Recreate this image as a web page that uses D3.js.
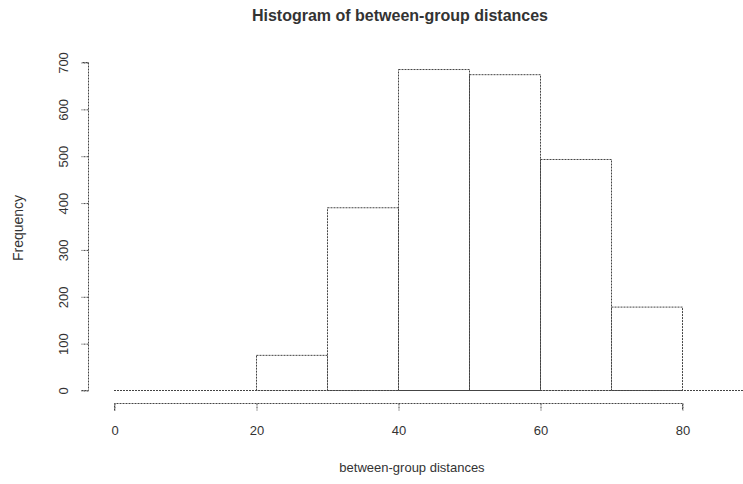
<!DOCTYPE html>
<html>
<head>
<meta charset="utf-8">
<script src="https://cdn.jsdelivr.net/npm/d3@7"></script>
<style>
  body { margin: 0; background: #fff; }
  text { font-family: "Liberation Sans", Arial, sans-serif; fill: #333; }
</style>
</head>
<body>
<div id="chart"></div>
<script>
// histogram bins (lower / upper edge) and counts
const binStart = [0, 10, 20, 30, 40, 50, 60, 70];
const binEnd   = [10, 20, 30, 40, 50, 60, 70, 80];
const counts   = [0, 0, 75, 390, 685, 674, 493, 178];

const xTicks = [0, 20, 40, 60, 80];
const yTicks = [0, 100, 200, 300, 400, 500, 600, 700];

const W = 743, H = 484;
const lineCol = "#444";
const dash = "2,1";

const svg = d3.select("#chart").append("svg")
  .attr("width", W).attr("height", H);

const x = d3.scaleLinear().domain([0, 80]).range([114, 682]);
const y = d3.scaleLinear().domain([0, 700]).range([390, 62]);

// bars
const bins = binStart.map((s, i) => ({ x0: s, x1: binEnd[i], n: counts[i] }));
svg.selectAll("rect.bar")
  .data(bins.filter(d => d.n > 0))
  .enter().append("rect")
  .attr("class", "bar")
  .attr("x", d => x(d.x0) + 0.5)
  .attr("width", d => x(d.x1) - x(d.x0))
  .attr("y", d => y(d.n) + 0.5)
  .attr("height", d => y(0) - y(d.n))
  .attr("fill", "none")
  .attr("stroke", lineCol)
  .attr("stroke-dasharray", dash);

// baseline at zero
svg.append("line")
  .attr("x1", x(0)).attr("x2", x(90))
  .attr("y1", y(0) + 0.5).attr("y2", y(0) + 0.5)
  .attr("stroke", lineCol)
  .attr("stroke-dasharray", dash);

// x axis
const xAxis = svg.append("g")
  .attr("transform", "translate(0.5,403.5)")
  .call(d3.axisBottom(x).tickValues(xTicks).tickSize(7).tickPadding(15).tickSizeOuter(0));
xAxis.select(".domain").attr("stroke", lineCol).attr("stroke-dasharray", dash)
  .attr("d", `M${x(0)},7V0H${x(80)}V7`);
xAxis.selectAll(".tick line").attr("stroke", lineCol).attr("stroke-dasharray", dash);
xAxis.selectAll(".tick text").style("font-size", "13px")
  .style("font-family", "Liberation Sans, Arial, sans-serif").attr("fill", "#333");

// y axis
const yAxis = svg.append("g")
  .attr("transform", "translate(88.5,0.5)")
  .call(d3.axisLeft(y).tickValues(yTicks).tickSize(7).tickSizeOuter(0));
yAxis.select(".domain").attr("stroke", lineCol).attr("stroke-dasharray", dash)
  .attr("d", `M-7,${y(0)}H0V${y(700)}H-7`);
yAxis.selectAll(".tick line").attr("stroke", lineCol).attr("stroke-dasharray", dash);
yAxis.selectAll(".tick text")
  .attr("x", null).attr("dy", null)
  .attr("transform", "translate(-21,0) rotate(-90)")
  .attr("text-anchor", "middle")
  .style("font-size", "13px")
  .style("font-family", "Liberation Sans, Arial, sans-serif").attr("fill", "#333");

// title
svg.append("text")
  .attr("x", 400).attr("y", 21)
  .attr("text-anchor", "middle")
  .style("font-size", "16px").style("font-weight", "bold")
  .text("Histogram of between-group distances");

// axis titles
svg.append("text")
  .attr("x", 412).attr("y", 472)
  .attr("text-anchor", "middle")
  .style("font-size", "13px")
  .text("between-group distances");

svg.append("text")
  .attr("transform", "translate(23,228) rotate(-90)")
  .attr("text-anchor", "middle")
  .style("font-size", "14px")
  .text("Frequency");
</script>
</body>
</html>
